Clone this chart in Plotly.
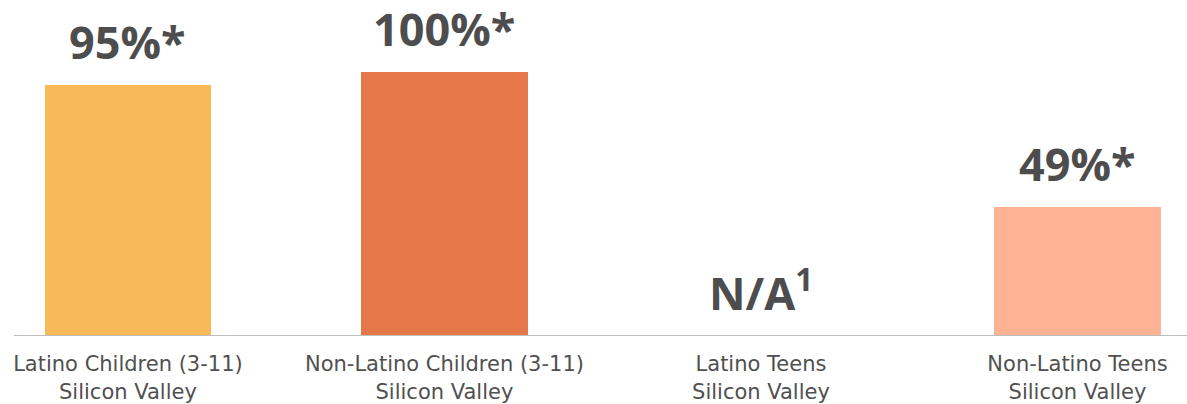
import plotly.graph_objects as go

categories = ["Latino Children (3-11)<br>Silicon Valley",
              "Non-Latino Children (3-11)<br>Silicon Valley",
              "Latino Teens<br>Silicon Valley",
              "Non-Latino Teens<br>Silicon Valley"]
values = [95, 100, 0, 49]
value_labels = ["95%*", "100%*", "N/A<sup>1</sup>", "49%*"]
colors = ["#F8BA58", "#E57849", "rgba(0,0,0,0)", "#FFB294"]

fig = go.Figure()
fig.add_trace(go.Bar(x=categories, y=values, marker=dict(color=colors, line=dict(width=0)),
                     width=0.525, hoverinfo="skip"))

for c, v, t in zip(categories, values, value_labels):
    fig.add_annotation(x=c, y=v, text=t, showarrow=False, yanchor="bottom", yshift=11,
                       font=dict(family="Open Sans", size=45, color="#4D4D4D", weight="bold"))

fig.update_layout(
    width=1187, height=404,
    margin=dict(l=14, r=0, t=0, b=68),
    paper_bgcolor="white", plot_bgcolor="white",
    showlegend=False,
    bargap=0,
    xaxis=dict(type="category", range=[-0.36, 3.346], showgrid=False, zeroline=False,
               showline=False, ticks="outside", ticklen=9, tickcolor="rgba(0,0,0,0)",
               tickfont=dict(family="DejaVu Sans", size=21, color="#505050")),
    yaxis=dict(range=[0, 127.27], visible=False, showgrid=False, zeroline=False),
    shapes=[dict(type="line", xref="paper", yref="y", x0=0, x1=1, y0=0, y1=0,
                 line=dict(color="#BDBDBD", width=2))],
)

fig.write_html("out.html", config={"displayModeBar": False},
               post_script="document.body.style.margin='0';")
